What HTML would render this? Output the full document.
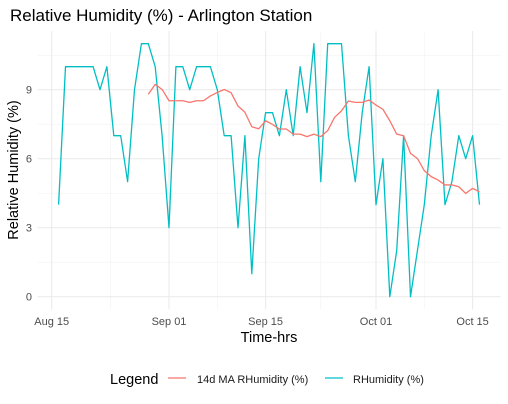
<!DOCTYPE html>
<html><head><meta charset="utf-8"><style>
body{margin:0;background:#fff;width:508px;height:404px;overflow:hidden}
svg{display:block;font-family:"Liberation Sans",Arial,sans-serif}
</style></head><body>
<svg id="chart" width="508" height="404">
<text x="10" y="21" font-size="17" fill="#000">Relative Humidity (%) - Arlington Station</text>
<g id="grid"></g>
<g id="series"></g>
<g id="axes"></g>
<text x="0" y="0" transform="translate(18,170) rotate(-90)" text-anchor="middle" font-size="14.5" fill="#000">Relative Humidity (%)</text>
<text x="269" y="342" text-anchor="middle" font-size="14.5" fill="#000">Time-hrs</text>
<g>
<text x="110" y="384" font-size="14.5" fill="#000">Legend</text>
<line x1="168" y1="378" x2="186" y2="378" stroke="#F8766D" stroke-width="1.3"/>
<text x="197" y="383" font-size="11" fill="#1a1a1a">14d MA RHumidity (%)</text>
<line x1="325" y1="378" x2="343" y2="378" stroke="#00BFC4" stroke-width="1.3"/>
<text x="353" y="383" font-size="11" fill="#1a1a1a">RHumidity (%)</text>
</g>
</svg>
<script>
// day offsets from Aug 15
const rhDays = [];
for (let d = 1; d <= 62; d++) rhDays.push(d);
const rhValues = [4,10,10,10,10,10,9,10,7,7,5,9,11,11,10,7,3,10,10,9,10,10,10,9,7,7,3,7,1,6,8,8,7,9,7,10,8,11,5,11,11,11,7,5,8,10,4,6,0,2,7,0,2,4,7,9,4,5,7,6,7,4];
const maDays = [];
for (let d = 14; d <= 62; d++) maDays.push(d);
const maValues = [8.80,9.23,9.01,8.52,8.52,8.52,8.45,8.52,8.52,8.73,8.88,9.01,8.87,8.29,8.02,7.39,7.30,7.65,7.49,7.29,7.29,7.07,7.07,6.96,7.07,6.96,7.22,7.80,8.08,8.51,8.45,8.45,8.55,8.33,8.15,7.65,7.07,7.00,6.23,6.01,5.48,5.22,5.07,4.86,4.86,4.78,4.49,4.71,4.56];
const xTickDays = [0,17,31,47,61];
const xTickLabels = ["Aug 15","Sep 01","Sep 15","Oct 01","Oct 15"];
const xMinorDays = [8.5,24,39,54];
const yTicks = [0,3,6,9];
const yMinor = [1.5,4.5,7.5,10.5];

const NS = "http://www.w3.org/2000/svg";
const X = d => 51.7 + d * 6.9;
const Y = v => 296.7 - v * 23;
const L = 37.6, R = 500.5, T = 31, B = 309.4;
function mk(tag, attrs, parent){const e=document.createElementNS(NS,tag);for(const k in attrs)e.setAttribute(k,attrs[k]);parent.appendChild(e);return e;}
const grid=document.getElementById('grid'), axes=document.getElementById('axes'), series=document.getElementById('series');
yMinor.forEach(v=>{const e=mk('line',{x1:L,x2:R,y1:Y(v),y2:Y(v),stroke:'#f2f2f2','stroke-width':0.6},grid);

});
xMinorDays.forEach(d=>{const e=mk('line',{x1:X(d),x2:X(d),y1:T,y2:B,stroke:'#f2f2f2','stroke-width':0.6},grid);

});
yTicks.forEach(v=>{const e=mk('line',{x1:L,x2:R,y1:Y(v),y2:Y(v),stroke:'#ebebeb','stroke-width':1.1},grid);


const t=mk('text',{x:32,y:Y(v)+4,'text-anchor':'end','font-size':11,fill:'#4d4d4d'},axes);t.textContent=v;

});
xTickDays.forEach((d,i)=>{const e=mk('line',{x1:X(d),x2:X(d),y1:T,y2:B,stroke:'#ebebeb','stroke-width':1.1},grid);


const t=mk('text',{x:X(d),y:325,'text-anchor':'middle','font-size':11,fill:'#4d4d4d'},axes);t.textContent=xTickLabels[i];

});
const rh=mk('polyline',{points:rhDays.map((d,i)=>X(d)+','+Y(rhValues[i])).join(' '),fill:'none',stroke:'#00BFC4','stroke-width':1.3,'stroke-linejoin':'round'},series);


const ma=mk('polyline',{points:maDays.map((d,i)=>X(d)+','+Y(maValues[i])).join(' '),fill:'none',stroke:'#F8766D','stroke-width':1.3,'stroke-linejoin':'round'},series);


</script>
</body></html>
